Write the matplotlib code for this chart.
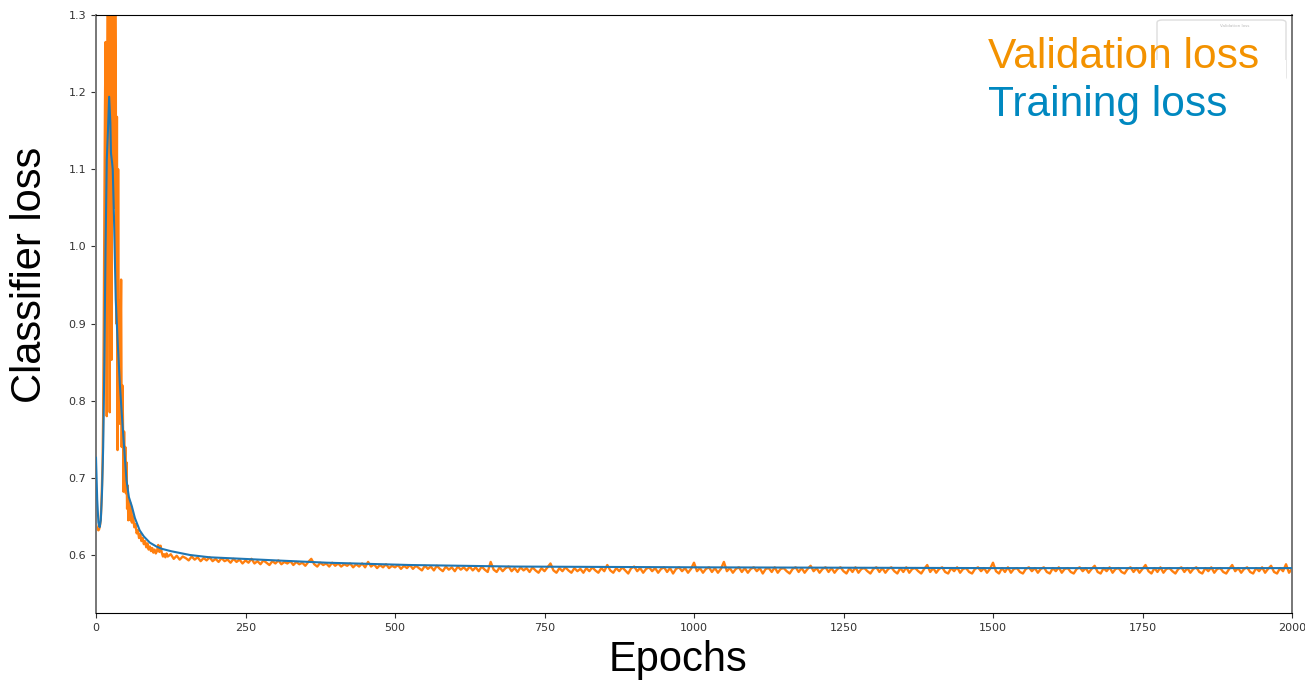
import matplotlib.pyplot as plt
from matplotlib.patches import FancyBboxPatch, Rectangle

# training loss (smooth curve), read at key epochs
train_epochs = [0, 2, 4, 6, 8, 10, 12, 14, 15, 16, 18, 20, 22, 24, 25, 27, 28, 30, 33,
                36, 40, 43, 47, 51, 55, 60, 65, 73, 80, 90, 101, 110, 125, 157, 190,
                246, 300, 386, 525, 700, 1010, 1250, 1500, 1750, 2000]
train_loss = [0.726, 0.672, 0.642, 0.636, 0.645, 0.680, 0.740, 0.850, 0.930, 1.000,
              1.112, 1.150, 1.194, 1.160, 1.121, 1.108, 1.100, 1.040, 0.931,
              0.880, 0.820, 0.784, 0.740, 0.697, 0.675, 0.663, 0.648, 0.632, 0.624,
              0.616, 0.611, 0.608, 0.605, 0.600, 0.597,
              0.595, 0.593, 0.590, 0.587, 0.585, 0.584, 0.5835, 0.583, 0.583, 0.583]

# validation loss, every epoch up to 60
val_first = [0.640, 0.637, 0.634, 0.633, 0.632, 0.633, 0.636, 0.640, 0.648, 0.665,
             0.690, 0.720, 0.780, 0.900, 1.050, 1.180, 1.265, 1.100, 0.780, 1.250,
             1.400, 0.950, 1.380, 0.785, 1.420, 1.200, 0.853, 1.400, 1.320, 1.100,
             1.400, 1.050, 1.350, 1.250, 0.900, 1.168, 0.736, 1.100, 0.800, 0.930,
             0.770, 0.880, 0.957, 0.740, 0.820, 0.780, 0.682, 0.760, 0.700, 0.740,
             0.680, 0.720, 0.660, 0.690, 0.645, 0.670, 0.655, 0.668, 0.645, 0.660,
             0.642]

# validation loss, every 2 epochs from 62 to 120
val_early = [0.650, 0.636, 0.640, 0.628, 0.632, 0.622, 0.627, 0.618,
             0.622, 0.614, 0.618, 0.610, 0.615, 0.607, 0.611, 0.605, 0.609, 0.603,
             0.607, 0.602, 0.605, 0.613, 0.604, 0.612, 0.603, 0.598, 0.601, 0.597,
             0.602, 0.598]

# validation loss, every 5 epochs from 125 to 2000
val_late = [
    0.601, 0.595, 0.599, 0.594, 0.598, 0.596, 0.593, 0.598, 0.594, 0.597, 0.592, 0.596, 0.593, 0.597, 0.592, 0.595, 0.591, 0.596, 0.592, 0.594,
    0.590, 0.595, 0.591, 0.594, 0.589, 0.593, 0.590, 0.595, 0.589, 0.592, 0.588, 0.593, 0.590, 0.587, 0.592, 0.589, 0.593, 0.588, 0.591, 0.589,
    0.592, 0.587, 0.591, 0.588, 0.590, 0.586, 0.591, 0.595, 0.588, 0.585, 0.590, 0.587, 0.589, 0.585, 0.590, 0.586, 0.589, 0.585, 0.588, 0.586,
    0.589, 0.584, 0.588, 0.585, 0.589, 0.584, 0.591, 0.585, 0.588, 0.583, 0.587, 0.584, 0.588, 0.583, 0.586, 0.584, 0.587, 0.582, 0.586, 0.583,
    0.587, 0.582, 0.586, 0.583, 0.580, 0.586, 0.582, 0.585, 0.580, 0.586, 0.582, 0.579, 0.585, 0.581, 0.584, 0.579, 0.585, 0.581, 0.584, 0.580,
    0.585, 0.580, 0.584, 0.579, 0.585, 0.581, 0.578, 0.591, 0.581, 0.578, 0.584, 0.579, 0.583, 0.585, 0.579, 0.583, 0.578, 0.584, 0.580, 0.583,
    0.578, 0.584, 0.580, 0.577, 0.583, 0.579, 0.584, 0.589, 0.580, 0.577, 0.583, 0.579, 0.584, 0.580, 0.577, 0.583, 0.579, 0.582, 0.577, 0.583,
    0.579, 0.584, 0.580, 0.577, 0.583, 0.579, 0.587, 0.580, 0.577, 0.583, 0.579, 0.584, 0.580, 0.576, 0.583, 0.585, 0.579, 0.583, 0.577, 0.582,
    0.584, 0.579, 0.583, 0.577, 0.582, 0.584, 0.578, 0.583, 0.576, 0.582, 0.584, 0.579, 0.583, 0.577, 0.582, 0.590, 0.579, 0.583, 0.577, 0.582,
    0.584, 0.578, 0.583, 0.577, 0.582, 0.591, 0.579, 0.583, 0.577, 0.582, 0.584, 0.578, 0.583, 0.577, 0.582, 0.584, 0.579, 0.583, 0.576, 0.582,
    0.583, 0.578, 0.584, 0.577, 0.582, 0.583, 0.579, 0.576, 0.582, 0.584, 0.578, 0.583, 0.577, 0.582, 0.586, 0.579, 0.583, 0.577, 0.582, 0.584,
    0.578, 0.583, 0.577, 0.582, 0.584, 0.579, 0.576, 0.583, 0.578, 0.584, 0.577, 0.582, 0.583, 0.579, 0.576, 0.582, 0.584, 0.578, 0.583, 0.577,
    0.582, 0.584, 0.579, 0.576, 0.583, 0.578, 0.584, 0.577, 0.582, 0.583, 0.579, 0.576, 0.582, 0.587, 0.578, 0.583, 0.577, 0.582, 0.584, 0.578,
    0.576, 0.583, 0.579, 0.584, 0.577, 0.582, 0.583, 0.578, 0.576, 0.582, 0.584, 0.579, 0.583, 0.577, 0.582, 0.590, 0.579, 0.576, 0.583, 0.578,
    0.584, 0.577, 0.582, 0.583, 0.578, 0.576, 0.582, 0.584, 0.579, 0.583, 0.577, 0.582, 0.584, 0.578, 0.576, 0.583, 0.579, 0.584, 0.577, 0.582,
    0.583, 0.578, 0.576, 0.582, 0.584, 0.579, 0.583, 0.577, 0.582, 0.586, 0.578, 0.576, 0.583, 0.579, 0.584, 0.577, 0.582, 0.583, 0.578, 0.576,
    0.582, 0.584, 0.578, 0.583, 0.577, 0.582, 0.587, 0.579, 0.576, 0.583, 0.578, 0.584, 0.577, 0.582, 0.583, 0.579, 0.576, 0.582, 0.584, 0.578,
    0.583, 0.577, 0.582, 0.584, 0.578, 0.576, 0.583, 0.579, 0.584, 0.577, 0.582, 0.583, 0.578, 0.576, 0.582, 0.587, 0.579, 0.583, 0.577, 0.582,
    0.584, 0.578, 0.576, 0.583, 0.579, 0.584, 0.577, 0.582, 0.586, 0.578, 0.576, 0.583, 0.579, 0.588, 0.577, 0.582,
]

val_epochs = list(range(0, 61)) + list(range(62, 121, 2)) + list(range(125, 2001, 5))
val_loss = val_first + val_early + val_late

xticks = [0, 250, 500, 750, 1000, 1250, 1500, 1750, 2000]
yticks = [0.6, 0.7, 0.8, 0.9, 1.0, 1.1, 1.2, 1.3]

fig = plt.figure(figsize=(13.05, 6.81), dpi=100)
ax = fig.add_axes([96 / 1305, 1 - 613 / 681, 1196 / 1305, 598 / 681])

ax.plot(val_epochs, val_loss, color="#ff7f0e", lw=1.7, zorder=2)
ax.plot(train_epochs, train_loss, color="#1f77b4", lw=1.5, zorder=3)

ax.set_xlim(0, 2000)
ax.set_ylim(0.5248, 1.3)
ax.set_xticks(xticks)
ax.set_yticks(yticks)
ax.set_yticklabels([f"{v:.1f}" for v in yticks])
ax.tick_params(labelsize=8, colors="#333333")
for side in ["left", "right"]:
    ax.spines[side].set_color("#777777")
    ax.spines[side].set_linewidth(1.4)

lab_font = ["Liberation Sans", "DejaVu Sans"]
fig.text(678 / 1305, 1 - 660 / 681, "Epochs", family=lab_font, fontsize=30,
         ha="center", va="center")
fig.text(30 / 1305, 1 - 275 / 681, "Classifier loss", family=lab_font, fontsize=30,
         rotation=90, ha="center", va="center")

# remains of the original legend box, partly covered by the big labels
fig.patches.append(FancyBboxPatch((1157 / 1305, 1 - 80 / 681), 129 / 1305, 60 / 681,
                                  boxstyle="round,pad=0,rounding_size=0.004",
                                  transform=fig.transFigure, fc="white",
                                  ec="#dddddd", lw=1.0, zorder=5))
fig.text(1235 / 1305, 1 - 26 / 681, "Validation loss", fontsize=3, color="#bbbbbb",
         ha="center", va="center", zorder=6)
fig.patches.append(Rectangle((985 / 1305, 1 - 135 / 681), 301 / 1305, 75 / 681,
                             transform=fig.transFigure, fc="white", ec="none", zorder=7))

fig.text(988 / 1305, 1 - 57 / 681, "Validation loss", family=lab_font, fontsize=30.6,
         color="#f39200", ha="left", va="center", zorder=8)
fig.text(988 / 1305, 1 - 105 / 681, "Training loss", family=lab_font, fontsize=30.6,
         color="#0088c0", ha="left", va="center", zorder=8)

fig.savefig("out.png", dpi=100)
